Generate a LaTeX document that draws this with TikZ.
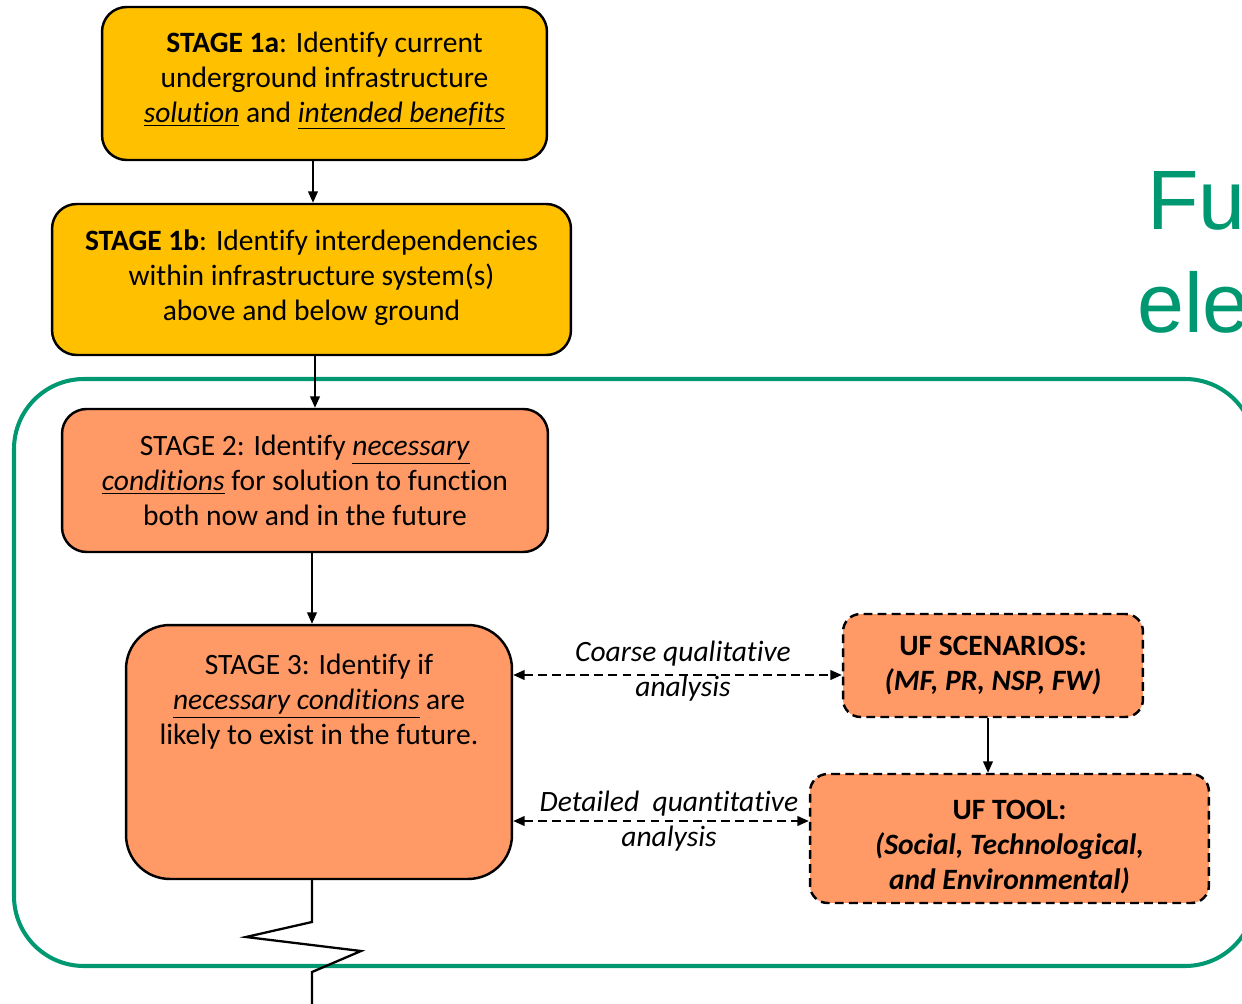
\documentclass[tikz,border=0pt]{standalone}
\usepackage{fontspec}
\setmainfont[Ligatures=NoCommon]{Carlito}
\newfontfamily\titlefont{Liberation Sans}
\usetikzlibrary{arrows.meta,positioning,calc}
\definecolor{gold}{RGB}{255,192,0}
\definecolor{salmon}{RGB}{255,153,102}
\definecolor{frame}{RGB}{0,152,112}
\newcommand{\alapbetu}{\fontsize{16.8}{19.9}\selectfont}
\tikzset{
  stagey/.style={draw,line width=1.4pt,fill=gold,rounded corners=14pt,align=center,inner sep=0pt},
  stageo/.style={stagey,fill=salmon},
  ufbox/.style={stageo,rounded corners=10pt,dash pattern=on 5pt off 3pt},
  nyil/.style={line width=1.1pt,-{Triangle[length=6.5pt,width=5.5pt]}},
  ketnyil/.style={line width=1.1pt,dash pattern=on 5pt off 3pt,{Triangle[length=6.5pt,width=5.5pt]}-{Triangle[length=6.5pt,width=5.5pt]}},
  felirat/.style={align=center,font=\alapbetu\itshape,inner sep=0pt},
}

\begin{document}
\begin{tikzpicture}[x=0.02cm,y=-0.02cm,font=\alapbetu]
  \useasboundingbox (0,0) rectangle (1242,1004);
  \clip (0,0) rectangle (1242,1004);
  % title, cut by the page edge
  \node[anchor=base west,inner sep=0pt,text=frame,font=\titlefont\fontsize{48}{58}\selectfont] (tit1) at (1147,229) {Fu};
  \node[anchor=base west,inner sep=0pt,text=frame,font=\titlefont\fontsize{48}{58}\selectfont] (tit2) at (1137,332) {ele};
  % green frame
  \draw[frame,line width=2.3pt,rounded corners=1.4cm] (14,379) rectangle (1255,966);
  % stages
  \node[stagey,minimum width=8.9cm,minimum height=3.06cm] (s1a) at (324.5,83.5) {};
  \node[align=center,inner sep=0pt] (s1at) at (324.5,81)
    {\textbf{STAGE 1a}: Identify current\\underground infrastructure\\\underline{\textit{solution}} and \underline{\textit{intended benefits}}};
  \node[stagey,minimum width=10.38cm,minimum height=3.02cm] (s1b) at (311.5,279.5) {};
  \node[align=center,inner sep=0pt] (s1bt) at (311.5,278)
    {\textbf{STAGE 1b}: Identify interdependencies\\within infrastructure system(s)\\above and below ground};
  \node[stageo,minimum width=9.72cm,minimum height=2.86cm] (s2) at (305,480.5)
    {STAGE 2: Identify \underline{\textit{necessary}}\\\underline{\textit{conditions}} for solution to function\\both now and in the future};
  \node[stageo,rounded corners=25pt,minimum width=7.72cm,minimum height=5.08cm] (s3) at (319,752) {};
  \node[align=center,inner sep=0pt] (s3t) at (319,702)
    {STAGE 3: Identify if\\\underline{\textit{necessary conditions}} are\\likely to exist in the future.};
  \node[ufbox,minimum width=6cm,minimum height=2.06cm] (scen) at (993,665.5)
    {\textbf{UF SCENARIOS:}\\\textbf{\textit{(MF, PR, NSP, FW)}}};
  \node[ufbox,minimum width=7.98cm,minimum height=2.58cm] (tool) at (1009.5,838.5) {};
  \node[align=center,inner sep=0pt] (toolt) at (1009.5,847)
    {\textbf{UF TOOL:}\\\textbf{\textit{(Social, Technological,}}\\\textbf{\textit{and Environmental)}}};
  % helper coordinates
  \coordinate (k1) at (313,0);
  \coordinate (k2) at (315,0);
  \coordinate (k3) at (312,0);
  \coordinate (k4) at (988,0);
  \coordinate (h1) at (0,675);
  \coordinate (h2) at (0,821);
  \coordinate (z0) at (312,1004);
  % connectors
  \draw[nyil] (s1a.south -| k1) -- (s1b.north -| k1);
  \draw[nyil] (s1b.south -| k2) -- (s2.north -| k2);
  \draw[nyil] (s2.south -| k3) -- (s3.north -| k3);
  \draw[nyil] (scen.south -| k4) -- (tool.north -| k4);
  \draw[ketnyil] (s3.east |- h1) -- (scen.west |- h1);
  \draw[ketnyil] (s3.east |- h2) -- (tool.west |- h2);
  \node[felirat] (l1) at (683,671) {Coarse qualitative\\analysis};
  \node[felirat] (l2) at (669,821) {Detailed~ quantitative\\analysis};
  % break line
  \draw[line width=1.3pt] (s3.south -| k3) -- (312,922) -- (246,937) -- (361,951) -- (312,972) -- (z0);
\end{tikzpicture}
\end{document}
